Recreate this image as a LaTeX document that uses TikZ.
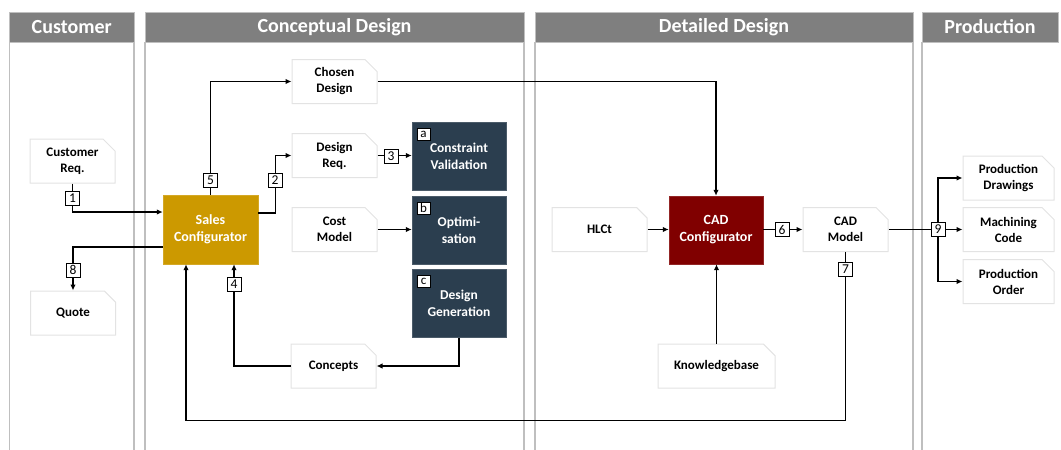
\documentclass[tikz,border=0pt]{standalone}
\usepackage{fontspec}
\setmainfont{Carlito}
\usetikzlibrary{arrows.meta,shapes.misc}
\definecolor{hdr}{HTML}{7F7F7F}
\definecolor{lanec}{HTML}{BFBFBF}
\definecolor{gold}{HTML}{CC9900}
\definecolor{navy}{HTML}{2B3E4F}
\definecolor{darkred}{HTML}{800000}
\definecolor{docb}{HTML}{E3E3E3}
\begin{document}
\begin{tikzpicture}[x=1pt,y=-1pt,
  doc/.style={chamfered rectangle, chamfered rectangle corners=north east,
    chamfered rectangle xsep=6pt, chamfered rectangle ysep=6pt,
    draw=docb, line width=1pt, fill=white, minimum width=#1, minimum height=44pt,
    inner sep=0pt, align=center, font=\fontsize{13}{16}\selectfont\bfseries},
  doc/.default=85pt,
  proc/.style={rectangle, fill=#1, draw=#1!85!white, minimum width=94pt, minimum height=68pt,
    inner sep=0pt, align=center, text=white, font=\fontsize{14}{17}\selectfont\bfseries},
  lanehdr/.style={rectangle, fill=hdr, draw=lanec, line width=1pt, minimum height=30pt,
    inner sep=0pt, text=white, font=\fontsize{20}{24}\selectfont\bfseries},
  laneline/.style={draw=lanec, line width=1.5pt},
  conn/.style={draw=black, line width=1.2pt},
  arr/.style={conn, -{Latex[length=6pt,width=5.5pt]}},
  numbox/.style={rectangle, draw=black, line width=0.9pt, fill=white, minimum width=14pt,
    minimum height=14pt, inner sep=0pt, font=\fontsize{13.5}{13.5}\selectfont},
  lblbox/.style={rectangle, draw=black, line width=0.6pt, fill=white, minimum width=13pt,
    minimum height=12pt, inner sep=0pt, anchor=north west, font=\fontsize{13}{13}\selectfont}
]
\useasboundingbox (0,0) rectangle (1061,450);

% lanes
\draw[laneline] (9.5,42) -- (9.5,456) (134,42) -- (134,456);
\draw[laneline] (145,42) -- (145,456) (524,42) -- (524,456);
\draw[laneline] (535,42) -- (535,456) (913,42) -- (913,456);
\draw[laneline] (922,42) -- (922,456);
\node[lanehdr, minimum width=124.5pt] (hcust) at (71.75,27) {Customer};
\node[lanehdr, minimum width=379pt] (hconc) at (334.5,27) {Conceptual Design};
\node[lanehdr, minimum width=378pt] (hdet) at (724,27) {Detailed Design};
\node[lanehdr, minimum width=136pt] (hprod) at (990,27) {Production};

% nodes
\node[doc] (custreq) at (72.5,161) {Customer\\Req.};
\node[doc] (quote) at (73,313) {Quote};
\node[proc=gold, minimum width=95pt, minimum height=69pt] (sales) at (210.5,229.5) {Sales\\Configurator};
\node[doc] (chosen) at (334.5,81.5) {Chosen\\Design};
\node[doc] (designreq) at (334.5,155.5) {Design\\Req.};
\node[doc] (costmodel) at (334.5,229.5) {Cost\\Model};
\node[doc] (concepts) at (333.5,366) {Concepts};
\node[proc=navy, font=\fontsize{13.5}{17}\selectfont\bfseries] (cv) at (459,156) {Constraint\\Validation};
\node[proc=navy, font=\fontsize{13.5}{17}\selectfont\bfseries] (opt) at (459,230) {Optimi-\\sation};
\node[proc=navy, font=\fontsize{13.5}{17}\selectfont\bfseries] (dg) at (459,303.5) {Design\\Generation};
\node[doc=95pt] (hlct) at (599.5,229.5) {HLCt};
\node[proc=darkred] (cad) at (716,230) {CAD\\Configurator};
\node[doc] (cadmodel) at (845.5,229.5) {CAD\\Model};
\node[doc=117pt] (kb) at (716.5,366) {Knowledgebase};
\node[doc=91pt] (pd) at (1008.5,178) {Production\\Drawings};
\node[doc=91pt] (mc) at (1008.5,229.5) {Machining\\Code};
\node[doc=91pt] (po) at (1008.5,281.5) {Production\\Order};
\coordinate (j9) at (938,229.5);

% connectors
\draw[arr] (custreq.south) |- ([yshift=17.5pt]sales.west);
\draw[arr] ([yshift=16.5pt]sales.east) -- ++(17,0) |- (designreq.west);
\draw[arr] (designreq.east) -- (cv.west |- designreq.east);
\draw[arr] (costmodel.east) -- (opt.west |- costmodel.east);
\draw[arr] (dg.south) |- (concepts.east);
\draw[arr] (concepts.west) -| ([xshift=23.5pt]sales.south);
\draw[arr] (sales.north) |- (chosen.west);
\draw[arr] (chosen.east) -| (cad.north);
\draw[arr] ([yshift=-17.5pt]sales.west) -| (quote.north);
\draw[arr] (hlct.east) -- (cad.west |- hlct.east);
\draw[arr] (kb.north) -- (kb.north |- cad.south);
\draw[arr] (cad.east |- cadmodel.west) -- (cadmodel.west);
\draw[arr] (cadmodel.south) -- ++(0,168.5) -| ([xshift=-24.5pt]sales.south);
\draw[conn] (cadmodel.east) -- (j9);
\draw[arr] (j9) |- (pd.west);
\draw[arr] (j9) -- (mc.west);
\draw[arr] (j9) |- (po.west);

% number labels
\node[numbox] (n1) at (72.5,198.5) {1};
\node[numbox] (n2) at (275,180) {2};
\node[numbox] (n3) at (391,156) {3};
\node[numbox] (n4) at (234,284) {4};
\node[numbox] (n5) at (210.5,180) {5};
\node[numbox] (n6) at (782,229.5) {6};
\node[numbox] (n7) at (845.5,269) {7};
\node[numbox] (n8) at (73,270) {8};
\node[numbox] (n9) at (j9) {9};

% letter labels
\node[lblbox] (la) at ([xshift=5pt,yshift=-6pt]cv.north west) {a};
\node[lblbox] (lb) at ([xshift=5pt,yshift=-6pt]opt.north west) {b};
\node[lblbox] (lc) at ([xshift=5pt,yshift=-6pt]dg.north west) {c};
\end{tikzpicture}
\end{document}
